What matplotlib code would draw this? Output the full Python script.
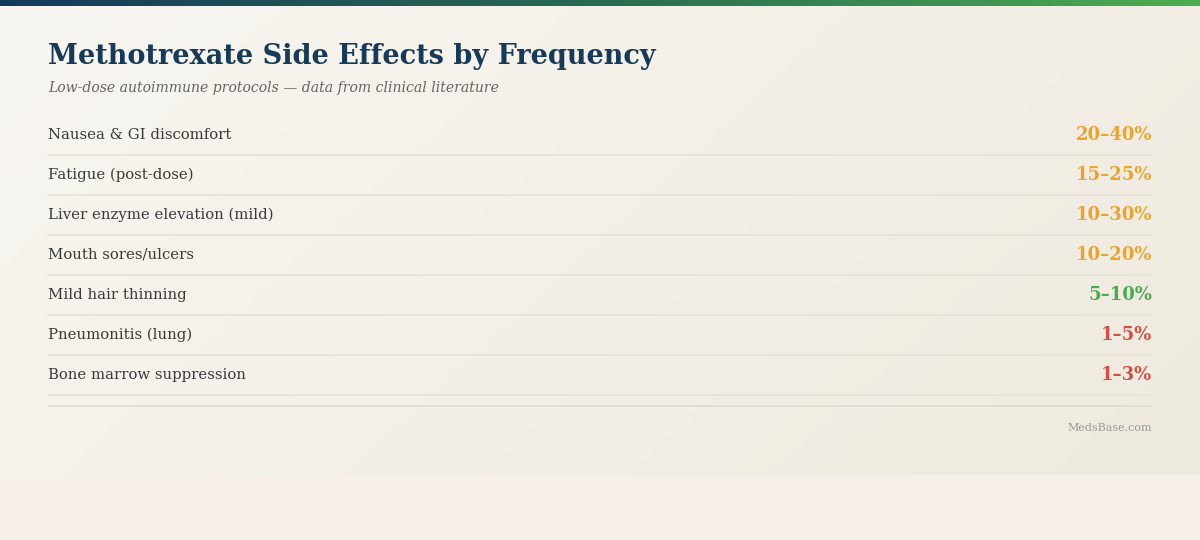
import numpy as np
import matplotlib.pyplot as plt
from matplotlib.colors import LinearSegmentedColormap

# data
effects = ['Nausea & GI discomfort', 'Fatigue (post-dose)', 'Liver enzyme elevation (mild)',
           'Mouth sores/ulcers', 'Mild hair thinning', 'Pneumonitis (lung)', 'Bone marrow suppression']
low = [20, 15, 10, 10, 5, 1, 1]
high = [40, 25, 30, 20, 10, 5, 3]
level = ['common', 'common', 'common', 'common', 'mild', 'rare', 'rare']

level_colors = {'common': '#eba42e', 'mild': '#4caa50', 'rare': '#d34f47'}

plt.rcParams['font.family'] = ['DejaVu Serif']

fig = plt.figure(figsize=(12, 5.4), dpi=100)
fig.patch.set_facecolor('#f7f0ea')
ax = fig.add_axes([0, 0, 1, 1])
ax.axis('off')

# panel background, soft diagonal gradient
gx, gy = np.meshgrid(np.linspace(0, 1, 200), np.linspace(0, 1, 100))
bg = LinearSegmentedColormap.from_list('bg', ['#f8f6f1', '#efeadf'])
ax.imshow((gx * 0.7 + gy * 0.3), cmap=bg, extent=(0, 1200, 475, 0), aspect='auto', zorder=0)

# top bar
bar = LinearSegmentedColormap.from_list('bar', ['#163a5c', '#2a6b52', '#4cad50'])
ax.imshow(np.linspace(0, 1, 300).reshape(1, -1), cmap=bar, extent=(0, 1200, 6, 0),
          aspect='auto', zorder=1)
ax.set_xlim(0, 1200)
ax.set_ylim(540, 0)

ax.text(48, 57, 'Methotrexate Side Effects by Frequency', fontsize=19.5, fontweight='bold',
        color='#163a57', va='center', ha='left')
ax.text(48, 88, 'Low-dose autoimmune protocols \u2014 data from clinical literature',
        fontsize=10.1, style='italic', color='#666666', va='center', ha='left')

row_top = 135
row_h = 40
for i, name in enumerate(effects):
    y = row_top + i * row_h
    ax.text(48, y, name, fontsize=10.7, color='#3a3a3a', va='center', ha='left')
    ax.text(1152, y, f'{low[i]}\u2013{high[i]}%', fontsize=13, fontweight='bold',
            color=level_colors[level[i]], va='center', ha='right')
    ax.plot([48, 1152], [y + 20, y + 20], color='#e6e2d6', lw=1.2, zorder=2)

ax.plot([48, 1152], [406, 406], color='#dedbd3', lw=1.2, zorder=2)
ax.text(1152, 428, 'MedsBase.com', fontsize=8, color='#999999', va='center', ha='right')

fig.savefig('out.png', dpi=100, facecolor=fig.get_facecolor())
